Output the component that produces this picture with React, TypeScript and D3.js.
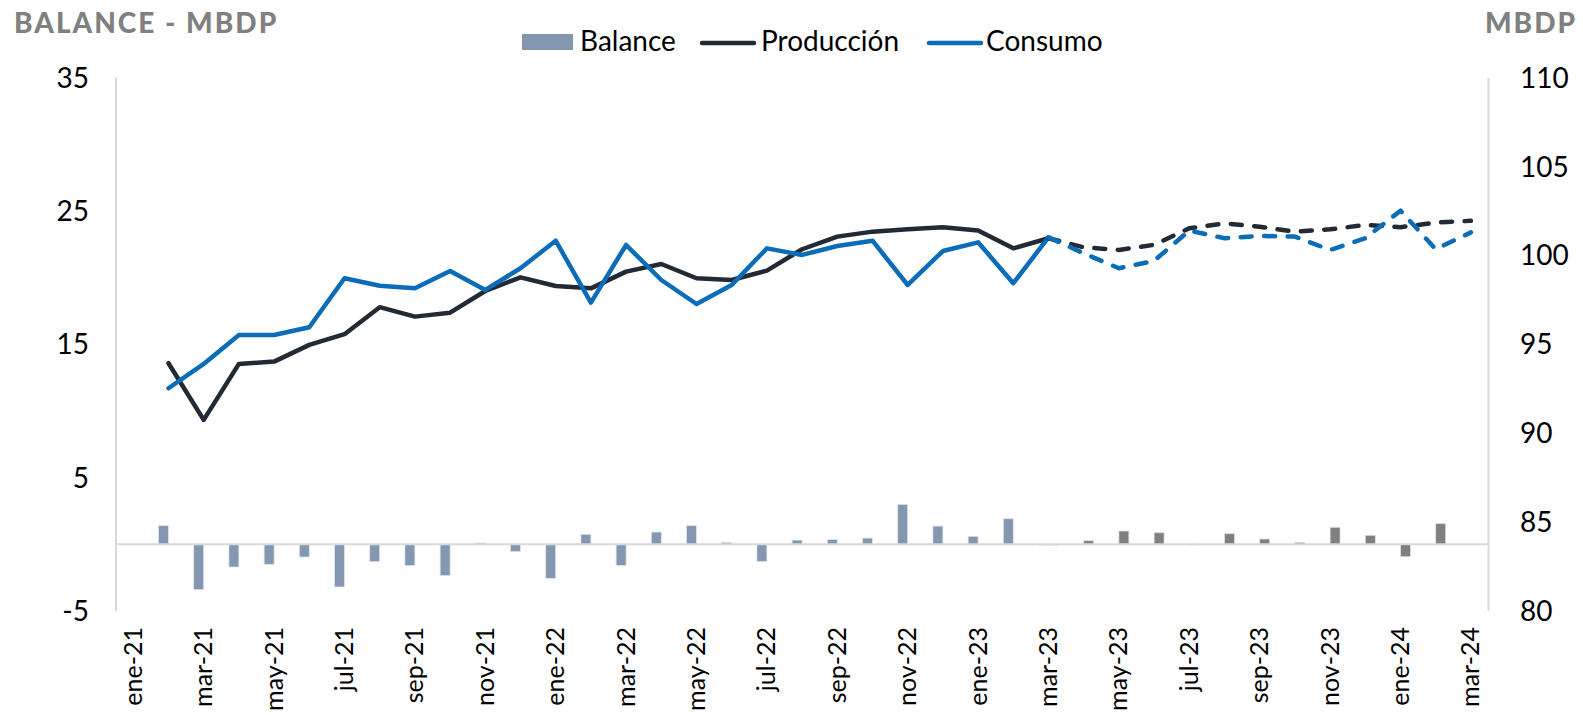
import React, { useEffect } from "react";
import * as d3 from "d3";

// ---------- DATA ----------
const monthNames = ["ene", "feb", "mar", "abr", "may", "jun", "jul", "ago", "sep", "oct", "nov", "dic"];
const years = ["21", "22", "23", "24"];
const categories: string[] = [];
years.forEach((y) => monthNames.forEach((m) => categories.push(`${m}-${y}`)));
const months = categories.slice(0, 39); // ene-21 .. mar-24

// Balance (left axis), historical (blue-gray)
const balanceHist: (number | null)[] = [
  null, 1.4, -3.4, -1.7, -1.5, -0.95, -3.2, -1.3, -1.6, -2.35, 0.1, -0.55,
  -2.55, 0.75, -1.58, 0.92, 1.4, 0.15, -1.28, 0.32, 0.37, 0.47, 3.0, 1.37,
  0.6, 1.92, -0.06, null, null, null, null, null, null, null, null, null,
  null, null, null,
];
// Balance (left axis), projected (gray)
const balanceProj: (number | null)[] = [
  null, null, null, null, null, null, null, null, null, null, null, null,
  null, null, null, null, null, null, null, null, null, null, null, null,
  null, null, -0.06, 0.27, 1.0, 0.87, 0.02, 0.8, 0.4, 0.15, 1.28, 0.68,
  -0.93, 1.55, null,
];
// Producción (right axis)
const produccion: (number | null)[] = [
  null, 93.94, 90.75, 93.9, 94.03, 94.97, 95.57, 97.09, 96.56, 96.78, 98.0, 98.77,
  98.28, 98.15, 99.09, 99.52, 98.72, 98.62, 99.15, 100.35, 101.06, 101.34, 101.47, 101.59,
  101.4, 100.4, 100.97, 100.46, 100.31, 100.6, 101.53, 101.81, 101.62, 101.34, 101.47, 101.72,
  101.59, 101.85, 101.95,
];
// Consumo (right axis)
const consumo: (number | null)[] = [
  null, 92.53, 93.9, 95.53, 95.53, 95.96, 98.72, 98.3, 98.15, 99.13, 98.06, 99.28,
  100.83, 97.35, 100.59, 98.62, 97.27, 98.34, 100.4, 100.03, 100.53, 100.83, 98.34, 100.25,
  100.74, 98.44, 101.02, 100.12, 99.28, 99.7, 101.4, 100.97, 101.1, 101.06, 100.31, 100.97,
  102.52, 100.35, 101.3,
];
const lastActualIndex = 26; // mar-23: solid up to here, dashed after
const leftTicks = [-5, 5, 15, 25, 35];
const rightTicks = [80, 85, 90, 95, 100, 105, 110];

// ---------- STYLE ----------
const W = 1583;
const H = 715;
const FONT = "Lato, 'Open Sans', sans-serif";
const C_BAL = "#8497b0";
const C_PROJ = "#7f7f7f";
const C_PROD = "#222a35";
const C_CONS = "#0b6cb8";
const C_AXIS = "#d9d9d9";

export default function App() {
  useEffect(() => {
    document.body.style.margin = "0";
    document.body.style.overflow = "hidden";
  }, []);

  const x = d3.scaleBand<string>().domain(months).range([115.7, 1488.5]).padding(0);
  const yL = d3.scaleLinear().domain([-5, 35]).range([611, 77.7]);
  const yR = d3.scaleLinear().domain([80, 110]).range([611, 77.7]);
  const bw = x.bandwidth();
  const barW = bw * 0.284;
  const cx = (i: number) => (x(months[i]) as number) + bw / 2;

  const mkLine = (arr: (number | null)[], from: number, to: number) =>
    d3
      .line<number>()
      .defined((i) => arr[i] != null && i >= from && i <= to)
      .x((i) => cx(i))
      .y((i) => yR(arr[i] as number))(d3.range(months.length));

  const bars = (arr: (number | null)[], side: number, color: string, stroke: string) =>
    arr.map((v, i) => {
      if (v == null) return null;
      const c = cx(i);
      const y0 = yL(0);
      const y1 = yL(v);
      return (
        <rect
          key={`${color}-${i}`}
          x={side < 0 ? c - barW : c}
          y={Math.min(y0, y1)}
          width={barW}
          height={Math.max(0.8, Math.abs(y1 - y0))}
          fill={color}
          stroke={stroke}
          strokeWidth={0.8}
        />
      );
    });

  return (
    <svg
      width={W}
      height={H}
      style={{ position: "absolute", left: 0, top: 0, background: "#fff" }}
      fontFamily={FONT}
    >
      {/* titles */}
      <text x={14} y={33} fontSize={28} fontWeight={900} fill="#808080" letterSpacing={2}>
        BALANCE - MBDP
      </text>
      <text x={1577} y={33} fontSize={28} fontWeight={900} fill="#808080" letterSpacing={2} textAnchor="end">
        MBDP
      </text>

      {/* legend */}
      <rect x={522} y={34} width={51} height={16} fill={C_BAL} />
      <text x={580} y={51} fontSize={28} fill="#000">Balance</text>
      <line x1={702} x2={754} y1={43} y2={43} stroke={C_PROD} strokeWidth={4.5} strokeLinecap="round" />
      <text x={761} y={51} fontSize={28} fill="#000">Producción</text>
      <line x1={929} x2={981} y1={43} y2={43} stroke={C_CONS} strokeWidth={4.5} strokeLinecap="round" />
      <text x={986} y={51} fontSize={28} fill="#000">Consumo</text>

      {/* axes lines */}
      <line x1={116} x2={116} y1={77.7} y2={611} stroke={C_AXIS} strokeWidth={2} />
      <line x1={1488.5} x2={1488.5} y1={77.7} y2={611} stroke={C_AXIS} strokeWidth={2} />

      {/* left ticks */}
      {leftTicks.map((t) => (
        <text key={`l${t}`} x={89} y={yL(t) + 10} fontSize={28} textAnchor="end" fill="#000">
          {t}
        </text>
      ))}
      {/* right ticks */}
      {rightTicks.map((t) => (
        <text key={`r${t}`} x={1520} y={yR(t) + 10} fontSize={28} textAnchor="start" fill="#000">
          {t}
        </text>
      ))}

      {/* bars */}
      {bars(balanceHist, -1, C_BAL, "#dfe4ea")}
      {bars(balanceProj, 1, C_PROJ, "#e0e0e0")}

      {/* zero line */}
      <line x1={116} x2={1488.5} y1={yL(0)} y2={yL(0)} stroke={C_AXIS} strokeWidth={2} />

      {/* lines */}
      <path d={mkLine(produccion, 0, lastActualIndex) || ""} fill="none" stroke={C_PROD} strokeWidth={4.5} strokeLinejoin="round" strokeLinecap="round" />
      <path d={mkLine(consumo, 0, lastActualIndex) || ""} fill="none" stroke={C_CONS} strokeWidth={4.5} strokeLinejoin="round" strokeLinecap="round" />
      <path d={mkLine(produccion, lastActualIndex, 99) || ""} fill="none" stroke={C_PROD} strokeWidth={4.5} strokeLinejoin="round" strokeLinecap="round" strokeDasharray="11 12.5" />
      <path d={mkLine(consumo, lastActualIndex, 99) || ""} fill="none" stroke={C_CONS} strokeWidth={4.5} strokeLinejoin="round" strokeLinecap="round" strokeDasharray="11 12.5" />

      {/* x labels */}
      {months.map((m, i) =>
        i % 2 === 0 ? (
          <text
            key={m}
            transform={`translate(${cx(i) + 8.5},627) rotate(-90)`}
            fontSize={25}
            textAnchor="end"
            fill="#000"
          >
            {m}
          </text>
        ) : null
      )}
    </svg>
  );
}
